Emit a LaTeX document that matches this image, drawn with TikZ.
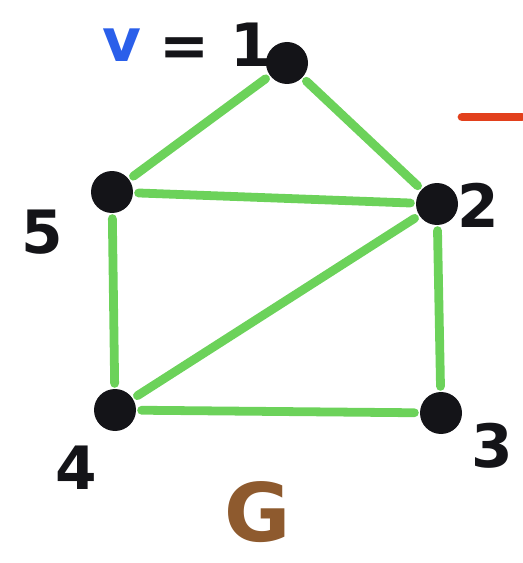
\documentclass[tikz,border=0pt]{standalone}
\usepackage{fontspec}
\setmainfont{DejaVu Sans}
\usepackage{tikz}
\usetikzlibrary{positioning}
\definecolor{Edge}{HTML}{6CD25A}
\definecolor{Pen}{HTML}{141418}
\definecolor{Blue}{HTML}{2A5FEA}
\definecolor{Brown}{HTML}{8E5A2E}
\definecolor{Red}{HTML}{E2401C}

\begin{document}
\begin{tikzpicture}[x=0.02cm,y=-0.02cm,
    vertex/.style={circle,fill=Pen,inner sep=0pt,minimum size=0.84cm},
    edge/.style={draw=Edge,line width=5pt,line cap=round,shorten >=3pt,shorten <=3pt},
    lab/.style={font=\fontsize{34}{34}\selectfont\bfseries,text=Pen,inner sep=0pt}]
  \useasboundingbox (0,0) rectangle (522,563);
  % vertices
  \node[vertex] (v1) at (287,63) {};
  \node[vertex] (v2) at (437,204) {};
  \node[vertex] (v3) at (441,413) {};
  \node[vertex] (v4) at (115,410) {};
  \node[vertex] (v5) at (112,192) {};
  % edges
  \foreach \a/\b in {v1/v5,v1/v2,v5/v2,v2/v4,v5/v4,v4/v3,v2/v3}
    \draw[edge] (\a) -- (\b);
  % labels
  \node[lab,text=Blue] (vname) at (122,45) {v};
  \node[lab,right=0.35cm of vname] (veq) {= 1};
  \node[lab] (l5) at (42,232) {5};
  \node[lab] (l2) at (478,205) {2};
  \node[lab] (l3) at (492,446) {3};
  \node[lab] (l4) at (76,468) {4};
  \node[lab,font=\fontsize{46}{46}\selectfont\bfseries,text=Brown] (gname) at (258,512) {G};
  % mark at the right
  \coordinate (m0) at (462,117);
  \coordinate (m1) at (522,117);
  \draw[Red,line width=5pt,line cap=round] (m0) -- (m1);
\end{tikzpicture}
\end{document}
